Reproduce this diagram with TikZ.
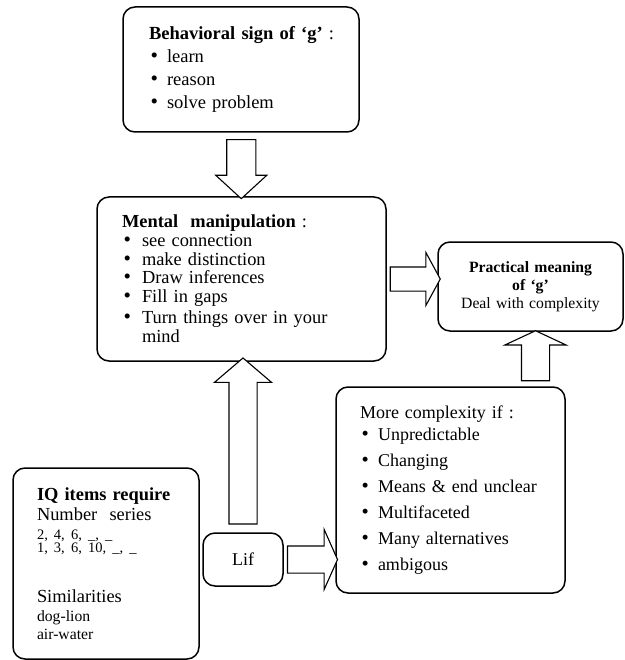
\documentclass[tikz,border=0pt]{standalone}
\usepackage{fontspec}
\usepackage{graphicx}
\setmainfont{Liberation Serif}
\usetikzlibrary{shapes.arrows,calc}

\newcommand{\bitem}[1][18pt]{\makebox[#1][l]{\hspace{1.5pt}\scalebox{1.15}{\textbullet}}}

\tikzset{
  roundbox/.style={draw, line width=1.5pt, rounded corners=12pt, anchor=north west, outer sep=0pt, inner ysep=0pt},
  blockarr/.style={single arrow, draw, line width=1.1pt, inner xsep=0pt, outer sep=0pt, fill=white},
}

\begin{document}
\begin{tikzpicture}[x=1pt,y=1pt,yscale=-1,xscale=1]
\useasboundingbox (0,0) rectangle (624,660);

%Rounded Rect: behavioral sign
\node[roundbox, minimum width=236pt, minimum height=125pt, text width=184pt, inner xsep=26pt, font=\fontsize{18.5}{23.3}\selectfont] (behav) at (123,7)
  {\mbox{\textbf{Behavioral sign of ‘g’} :}\\ \bitem learn\\ \bitem reason\\ \bitem solve problem};
%Rounded Rect: mental manipulation
\node[roundbox, minimum width=289pt, minimum height=164pt, text width=239pt, inner xsep=25pt, font=\fontsize{18.4}{18.6}\selectfont] (mental) at (97,197)
  {\textbf{Mental\ \ manipulation} :\\ \bitem[20pt]see connection\\ \bitem[20pt]make distinction\\ \bitem[20pt]Draw inferences\\ \bitem[20pt]Fill in gaps\\[3pt] \bitem[20pt]\mbox{Turn things over in your}\\ \hspace*{20pt}mind\par\vspace{-7pt}};
%Rounded Rect: practical meaning
\node[roundbox, minimum width=185pt, minimum height=89pt, text width=175pt, inner xsep=5pt, align=center, font=\fontsize{15.7}{18}\selectfont] (practical) at (438,242)
  {\textbf{Practical meaning}\\ \textbf{of ‘g’}\\ Deal with complexity};
%Rounded Rect: complexity
\node[roundbox, minimum width=229pt, minimum height=206pt, text width=181pt, inner xsep=24pt, font=\fontsize{18}{26}\selectfont] (complexity) at (336,387)
  {More complexity if :\\[-4pt] \bitem Unpredictable\\ \bitem Changing\\ \bitem Means \& end unclear\\ \bitem Multifaceted\\ \bitem Many alternatives\\ \bitem ambigous};
%Rounded Rect: IQ items
\node[roundbox, minimum width=186pt, minimum height=191pt, text width=138pt, inner xsep=24pt, font=\fontsize{18.4}{20}\selectfont] (iq) at (13,468)
  {\textbf{IQ items require}\\ Number\ \ series\par
   \vspace{6pt}{\fontsize{14.5}{13}\selectfont 2, 4, 6, \_, \_\\ 1, 3, 6, 10, \_, \_\par}
   \vspace{30pt}Similarities\par
   \vspace{1pt}{\fontsize{15.7}{18}\selectfont dog-lion\\ air-water\par}};
%Rounded Rect: Lif
\node[roundbox, minimum width=80pt, minimum height=53pt, inner sep=0pt, font=\fontsize{18}{20}\selectfont] (lif) at (203,533) {Lif};

%Block Arrows
\node[blockarr, rotate=-90, inner ysep=14pt, minimum height=59pt, minimum width=50pt, single arrow head extend=11pt, single arrow tip angle=95, xshift=-2pt] (behavtomental) at ($(behav.south)!0.5!(mental.north)$) {};
\node[blockarr, rotate=90, inner ysep=13.5pt, minimum height=166pt, minimum width=56pt, single arrow head extend=14.5pt, single arrow tip angle=99] (liftomental) at ($(lif.north)!0.5!(lif.north |- mental.south)$) {};
\node[blockarr, inner ysep=11.5pt, minimum height=50pt, minimum width=52pt, single arrow head extend=14.5pt, single arrow tip angle=123] (mentaltopractical) at ($(mental.east)!0.5!(mental.east -| practical.west)$) {};
\node[blockarr, inner ysep=13pt, minimum height=50pt, minimum width=59pt, single arrow head extend=16.5pt, single arrow tip angle=132] (liftocomplexity) at ($(lif.east)!0.5!(lif.east -| complexity.west)$) {};
\node[blockarr, rotate=90, inner ysep=13.5pt, minimum height=50pt, minimum width=60pt, single arrow head extend=16.5pt, single arrow tip angle=130, yshift=-5pt] (complexitytopractical) at ($(practical.south)!0.5!(practical.south |- complexity.north)$) {};

\end{tikzpicture}
\end{document}
